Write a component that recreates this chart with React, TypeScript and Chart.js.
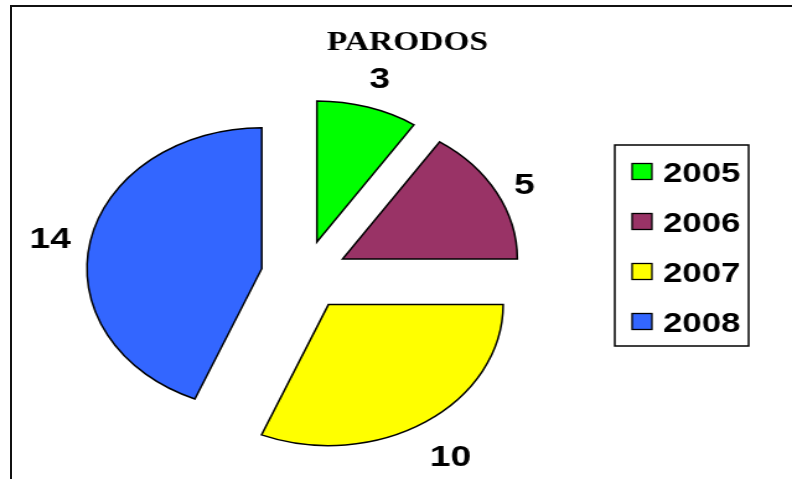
import React, { useEffect, useRef } from "react";
import { Chart, registerables } from "chart.js";

Chart.register(...registerables);

// ---- data ----
const chartTitle = "PARODOS";
const categories = ["2005", "2006", "2007", "2008"];
const values = [3, 5, 10, 14];
const colors = ["#00FF00", "#993366", "#FFFF00", "#3366FF"];

// ---- layout (canvas drawn narrow, then stretched horizontally like the reference) ----
const CANVAS_W = 639;
const CANVAS_H = 479;
const EXPLODE = 35;
const RADIUS = 141;
const LABEL_GAP = 16;
const LABEL_HALF_H = 17;
const LABEL_FONT = 30;
const LEGEND_FONT = 28;

export default function App() {
  const ref = useRef<HTMLCanvasElement | null>(null);

  useEffect(() => {
    const canvas = ref.current;
    if (!canvas) return;

    const piePlugin = {
      id: "explodedPie",
      beforeDatasetDraw(chart: any, args: any) {
        const ctx = chart.ctx;
        args.meta.data.forEach((arc: any) => {
          const mid = (arc.startAngle + arc.endAngle) / 2;
          ctx.save();
          ctx.translate(Math.cos(mid) * EXPLODE, Math.sin(mid) * EXPLODE);
          arc.draw(ctx);
          ctx.restore();
        });
        return false;
      },
      afterDatasetsDraw(chart: any) {
        const ctx = chart.ctx;
        const meta = chart.getDatasetMeta(0);
        const data = chart.data.datasets[0].data;
        ctx.save();
        ctx.fillStyle = "#000";
        ctx.font = `bold ${LABEL_FONT}px "Liberation Sans", Arial, sans-serif`;
        ctx.textAlign = "center";
        ctx.textBaseline = "alphabetic";
        meta.data.forEach((arc: any, i: number) => {
          const mid = (arc.startAngle + arc.endAngle) / 2;
          const txt = String(data[i]);
          const halfW = ctx.measureText(txt).width / 2;
          const c = Math.abs(Math.cos(mid)) || 1e-6;
          const s = Math.abs(Math.sin(mid)) || 1e-6;
          const t = Math.min(halfW / c, LABEL_HALF_H / s);
          const sx = arc.x + Math.cos(mid) * EXPLODE;
          const sy = arc.y + Math.sin(mid) * EXPLODE;
          const d = arc.outerRadius + LABEL_GAP + t;
          const x = sx + Math.cos(mid) * d;
          const y = sy + Math.sin(mid) * d;
          ctx.fillText(txt, x, y + LABEL_FONT * 0.45);
        });
        ctx.restore();
      },
      afterDraw(chart: any) {
        const ctx = chart.ctx;
        ctx.save();
        // title
        ctx.fillStyle = "#000";
        ctx.font = `bold 27px "Liberation Serif", "Times New Roman", serif`;
        ctx.textAlign = "center";
        ctx.textBaseline = "alphabetic";
        ctx.fillText(chartTitle, 328.8, 50);

        // legend
        const lx = 496, ly = 145, lw = 108, lh = 201;
        ctx.lineWidth = 1.5;
        ctx.strokeStyle = "#000";
        ctx.strokeRect(lx, ly, lw, lh);
        const labels = chart.data.labels;
        const bg = chart.data.datasets[0].backgroundColor;
        ctx.font = `bold ${LEGEND_FONT}px "Liberation Sans", Arial, sans-serif`;
        ctx.textAlign = "left";
        labels.forEach((lab: string, i: number) => {
          const cy = 171.5 + i * 50;
          ctx.fillStyle = bg[i];
          ctx.fillRect(510, cy - 8, 16, 16);
          ctx.lineWidth = 1.3;
          ctx.strokeRect(510, cy - 8, 16, 16);
          ctx.fillStyle = "#000";
          ctx.fillText(lab, 535, cy + LEGEND_FONT * 0.358);
        });
        ctx.restore();
      },
    };

    const chart = new Chart(canvas, {
      type: "pie",
      data: {
        labels: categories,
        datasets: [
          {
            data: values,
            backgroundColor: colors,
            borderColor: "#000",
            borderWidth: 1.5,
            borderJoinStyle: "miter",
            radius: RADIUS,
          } as any,
        ],
      },
      options: {
        responsive: false,
        animation: false,
        devicePixelRatio: 1,
        layout: { padding: { left: 0, right: 148, top: 72, bottom: 0 } },
        plugins: {
          legend: { display: false },
          tooltip: { enabled: false },
          title: { display: false },
        },
      } as any,
      plugins: [piePlugin],
    });

    return () => chart.destroy();
  }, []);

  return (
    <div
      style={{
        position: "absolute",
        left: 0,
        top: 0,
        width: 792,
        height: 479,
        overflow: "hidden",
        background: "#fff",
      }}
    >
      <canvas
        ref={ref}
        width={CANVAS_W}
        height={CANVAS_H}
        style={{ position: "absolute", left: 0, top: 0, width: "792px", height: "479px" }}
      />
      <div
        style={{
          position: "absolute",
          left: 10,
          top: 5,
          width: 820,
          height: 520,
          borderLeft: "2px solid #111",
          borderTop: "2px solid #111",
          pointerEvents: "none",
        }}
      />
    </div>
  );
}
